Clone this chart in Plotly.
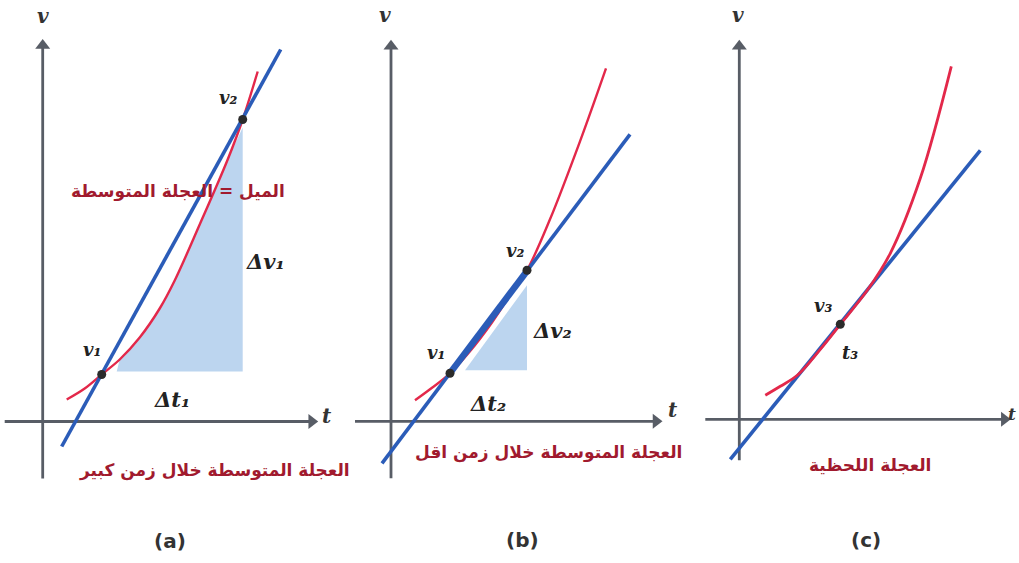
import plotly.graph_objects as go

# ---- panel (a): average acceleration over a long interval ----
a_blue_t = [1.9, 23.8]
a_blue_v = [-2.5, 37.2]
a_red_t = [2.4, 4.2, 5.9, 7.7, 9.7, 11.7, 13.2, 15.7, 18.5, 20.0, 21.5]
a_red_v = [2.2, 3.3, 4.7, 6.2, 8.4, 11.3, 14.1, 19.7, 26.2, 30.2, 35.0]
a_pts_t = [5.9, 20.0]
a_pts_v = [4.7, 30.2]
a_shade_t = [7.4, 20.0, 20.0, 18.5, 15.7, 13.2, 11.7, 9.7, 7.7, 7.4]
a_shade_v = [5.0, 5.0, 29.4, 26.2, 19.7, 14.1, 11.3, 8.4, 6.2, 5.0]

# ---- panel (b): average acceleration over a shorter interval ----
b_blue_t = [-0.9, 23.9]
b_blue_v = [-4.2, 28.7]
b_red_t = [2.4, 3.9, 5.9, 7.9, 9.9, 11.9, 13.6, 15.9, 18.9, 21.5]
b_red_v = [2.1, 3.2, 4.8, 7.0, 9.6, 12.6, 15.1, 20.2, 28.0, 35.3]
b_pts_t = [5.9, 13.6]
b_pts_v = [4.8, 15.1]
b_shade_t = [7.4, 13.6, 13.6, 7.4]
b_shade_v = [5.1, 5.1, 13.6, 5.1]

# ---- panel (c): instantaneous acceleration (tangent) ----
c_blue_t = [-0.9, 24.1]
c_blue_v = [-4.0, 26.9]
c_red_t = [2.6, 4.1, 5.8, 8.1, 10.1, 12.8, 15.1, 18.1, 21.2]
c_red_v = [2.4, 3.3, 4.4, 7.0, 9.5, 12.9, 16.6, 24.1, 35.3]
c_pts_t = [10.1]
c_pts_v = [9.5]

RED = "#e3284a"
BLUE = "#2b5cb8"
SHADE = "#bcd5ef"
AXIS = "#585d66"
DOT = "#2b2b2b"
TXT = "#a11a2e"
AR = "DejaVu Sans"
SER = "DejaVu Serif"

W, H = 1019, 563
fig = go.Figure()

# panel geometry: pixel origin of each t/v axis, 10 px per unit
panels = {
    "a": dict(x0=0, x1=340, ox=42.7, oy=421.5, xa="x", ya="y"),
    "b": dict(x0=340, x1=680, ox=391.0, oy=421.3, xa="x2", ya="y2"),
    "c": dict(x0=680, x1=1019, ox=739.3, oy=419.3, xa="x3", ya="y3"),
}
SCALE = 10.0

layout_axes = {}
for i, (k, p) in enumerate(panels.items()):
    sfx = "" if i == 0 else str(i + 1)
    layout_axes["xaxis" + sfx] = dict(
        domain=[p["x0"] / W, p["x1"] / W],
        range=[(p["x0"] - p["ox"]) / SCALE, (p["x1"] - p["ox"]) / SCALE],
        visible=False, fixedrange=True)
    layout_axes["yaxis" + sfx] = dict(
        domain=[0, 1],
        range=[(p["oy"] - H) / SCALE, p["oy"] / SCALE],
        visible=False, fixedrange=True)
    if i > 0:
        layout_axes["xaxis" + sfx]["anchor"] = "y" + sfx
        layout_axes["yaxis" + sfx]["anchor"] = "x" + sfx


def line(p, t, v, color, width, shape="linear"):
    fig.add_trace(go.Scatter(x=t, y=v, mode="lines", xaxis=p["xa"], yaxis=p["ya"],
                             line=dict(color=color, width=width, shape=shape, smoothing=1.0),
                             hoverinfo="skip", showlegend=False, cliponaxis=False))


def shade(p, t, v):
    fig.add_trace(go.Scatter(x=t, y=v, mode="lines", fill="toself", fillcolor=SHADE,
                             line=dict(width=0), xaxis=p["xa"], yaxis=p["ya"],
                             hoverinfo="skip", showlegend=False))


def dots(p, t, v):
    fig.add_trace(go.Scatter(x=t, y=v, mode="markers", xaxis=p["xa"], yaxis=p["ya"],
                             marker=dict(color=DOT, size=9),
                             hoverinfo="skip", showlegend=False))


def axis_arrows(p, t_lo, t_hi, v_lo, v_hi):
    # axis lines stop just short of the tip; a filled triangle marks the head
    line(p, [t_lo, t_hi - 0.6], [0, 0], AXIS, 2.8)
    line(p, [0, 0], [v_lo, v_hi - 0.6], AXIS, 2.8)
    for (x, y, sym) in [(t_hi - 0.6, 0, "triangle-right"), (0, v_hi - 0.6, "triangle-up")]:
        fig.add_trace(go.Scatter(x=[x], y=[y], mode="markers", xaxis=p["xa"], yaxis=p["ya"],
                                 marker=dict(symbol=sym, size=13, color=AXIS, line=dict(width=0)),
                                 hoverinfo="skip", showlegend=False, cliponaxis=False))


annotations = []


def text(p, t, v, s, size, color="#222", family=AR, italic=False):
    annotations.append(dict(x=t, y=v, xref=p["xa"], yref=p["ya"], text=s, showarrow=False,
                            font=dict(size=size, color=color, family=family, weight="bold",
                                      style="italic" if italic else "normal")))


pa, pb, pc = panels["a"], panels["b"], panels["c"]

# panel (a)
shade(pa, a_shade_t, a_shade_v)
axis_arrows(pa, -3.8, 27.5, -5.7, 38.2)
line(pa, a_red_t, a_red_v, RED, 2.4, "spline")
line(pa, a_blue_t, a_blue_v, BLUE, 3.6)
dots(pa, a_pts_t, a_pts_v)

# panel (b)
shade(pb, b_shade_t, b_shade_v)
axis_arrows(pb, -3.6, 27.1, -5.7, 38.1)
line(pb, b_red_t, b_red_v, RED, 2.4, "spline")
line(pb, b_blue_t, b_blue_v, BLUE, 3.6)
b_slope = (b_blue_v[1] - b_blue_v[0]) / (b_blue_t[1] - b_blue_t[0])
line(pb, b_pts_t, [b_blue_v[0] + b_slope * (t - b_blue_t[0]) for t in b_pts_t], BLUE, 6.5)
dots(pb, b_pts_t, b_pts_v)

# panel (c)
axis_arrows(pc, -3.4, 27.1, -4.1, 37.9)
line(pc, c_blue_t, c_blue_v, BLUE, 3.6)
line(pc, c_red_t, c_red_v, RED, 2.8, "spline")
dots(pc, c_pts_t, c_pts_v)

# labels (a)
text(pa, 0.0, 40.6, "v", 20, "#333", SER, True)
text(pa, 28.4, 0.6, "t", 20, "#333", SER, True)
text(pa, 4.9, 7.2, "v₁", 18, "#222", SER, True)
text(pa, 18.5, 32.4, "v₂", 18, "#222", SER, True)
text(pa, 22.3, 16.0, "Δv₁", 21, "#222", SER, True)
text(pa, 12.9, 2.2, "Δt₁", 21, "#222", SER, True)
text(pa, 13.5, 23.0, "الميل = العجلة المتوسطة", 17, TXT, AR)
text(pa, 17.2, -4.9, "العجلة المتوسطة خلال زمن كبير", 17, TXT, AR)
text(pa, 12.7, -11.9, "(a)", 20, "#333", AR)

# labels (b)
text(pb, -0.6, 40.6, "v", 20, "#333", SER, True)
text(pb, 28.2, 1.1, "t", 20, "#333", SER, True)
text(pb, 4.5, 6.9, "v₁", 18, "#222", SER, True)
text(pb, 12.4, 17.1, "v₂", 18, "#222", SER, True)
text(pb, 16.1, 9.1, "Δv₂", 21, "#222", SER, True)
text(pb, 9.7, 1.8, "Δt₂", 21, "#222", SER, True)
text(pb, 15.7, -3.1, "العجلة المتوسطة خلال زمن اقل", 17, TXT, AR)
text(pb, 13.1, -11.9, "(b)", 20, "#333", AR)

# labels (c)
text(pc, -0.1, 40.4, "v", 20, "#333", SER, True)
text(pc, 27.3, 0.5, "t", 17, "#333", SER, True)
text(pc, 8.4, 11.4, "v₃", 18, "#222", SER, True)
text(pc, 11.1, 6.7, "t₃", 18, "#222", SER, True)
text(pc, 13.1, -4.6, "العجلة اللحظية", 17, TXT, AR)
text(pc, 12.7, -12.1, "(c)", 20, "#333", AR)

fig.update_layout(width=W, height=H, margin=dict(l=0, r=0, t=0, b=0),
                  paper_bgcolor="white", plot_bgcolor="white",
                  showlegend=False, annotations=annotations, **layout_axes)

fig.write_html("out.html", config={"displayModeBar": False})
